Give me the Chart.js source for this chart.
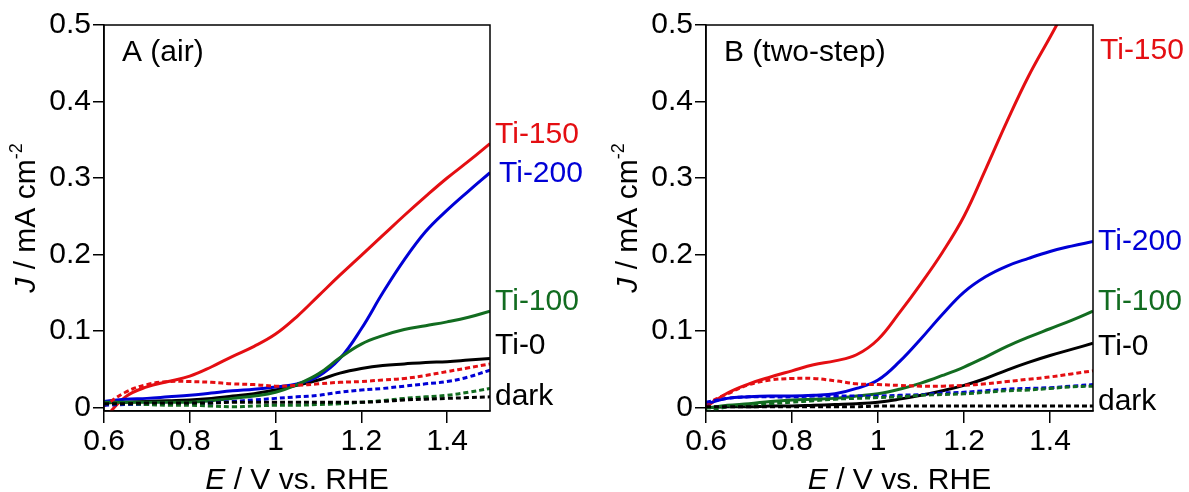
<!DOCTYPE html>
<html>
<head>
<meta charset="utf-8">
<script src="https://cdn.jsdelivr.net/npm/chart.js@4/dist/chart.umd.min.js"></script>
<style>
  body { margin: 0; background: #fff; }
  #wrap { position: relative; width: 1189px; height: 492px; }
  canvas { position: absolute; top: 0; }
</style>
</head>
<body>
<div id="wrap">
  <canvas id="chartA" width="600" height="492" style="left:0"></canvas>
  <canvas id="chartB" width="589" height="492" style="left:600px"></canvas>
</div>
<script>
/* potential grid (V vs RHE) */
const potential = [0.60, 0.65, 0.70, 0.75, 0.80, 0.85, 0.90, 0.95, 1.00, 1.05,
                   1.10, 1.15, 1.20, 1.25, 1.30, 1.35, 1.40, 1.45, 1.50];
const xTicks = [0.6, 0.8, 1.0, 1.2, 1.4];
const yTicks = [0, 0.1, 0.2, 0.3, 0.4, 0.5];

/* A (air) - light */
const airTi150 = [-0.015, 0.014, 0.027, 0.034, 0.041, 0.053, 0.067, 0.080, 0.096, 0.119, 0.146, 0.173, 0.199, 0.225, 0.251, 0.276, 0.300, 0.322, 0.345];
const airTi200 = [0.008, 0.011, 0.012, 0.014, 0.016, 0.019, 0.022, 0.024, 0.027, 0.031, 0.041, 0.064, 0.103, 0.150, 0.193, 0.230, 0.258, 0.283, 0.307];
const airTi100 = [0.007, 0.007, 0.007, 0.007, 0.007, 0.009, 0.012, 0.015, 0.020, 0.030, 0.044, 0.065, 0.083, 0.094, 0.102, 0.107, 0.112, 0.118, 0.126];
const airTi0   = [0.006, 0.007, 0.008, 0.009, 0.010, 0.012, 0.015, 0.018, 0.023, 0.029, 0.036, 0.045, 0.051, 0.055, 0.057, 0.059, 0.060, 0.062, 0.064];
/* A (air) - dark */
const airTi150Dark = [0.002, 0.020, 0.030, 0.034, 0.034, 0.033, 0.031, 0.030, 0.028, 0.029, 0.031, 0.033, 0.034, 0.036, 0.038, 0.042, 0.047, 0.052, 0.057];
const airTi200Dark = [0.003, 0.004, 0.004, 0.005, 0.005, 0.006, 0.008, 0.010, 0.012, 0.014, 0.016, 0.020, 0.023, 0.025, 0.028, 0.031, 0.034, 0.040, 0.049];
const airTi100Dark = [0.005, 0.005, 0.004, 0.003, 0.003, 0.002, 0.001, 0.002, 0.003, 0.003, 0.004, 0.005, 0.007, 0.009, 0.012, 0.014, 0.016, 0.020, 0.025];
const airTi0Dark   = [0.005, 0.005, 0.006, 0.006, 0.006, 0.006, 0.007, 0.007, 0.007, 0.007, 0.007, 0.007, 0.007, 0.008, 0.010, 0.011, 0.012, 0.013, 0.014];

/* B (two-step) - light */
const twoTi150 = [0.001, 0.019, 0.031, 0.040, 0.048, 0.056, 0.061, 0.069, 0.089, 0.124, 0.162, 0.203, 0.250, 0.311, 0.374, 0.433, 0.484, 0.535, 0.585];
const twoTi200 = [0.005, 0.012, 0.014, 0.015, 0.015, 0.016, 0.018, 0.025, 0.036, 0.060, 0.090, 0.122, 0.151, 0.171, 0.185, 0.195, 0.204, 0.211, 0.217];
const twoTi100 = [-0.001, 0.003, 0.005, 0.008, 0.010, 0.011, 0.012, 0.015, 0.018, 0.024, 0.032, 0.042, 0.053, 0.066, 0.080, 0.092, 0.103, 0.114, 0.126];
const twoTi0   = [0.000, 0.001, 0.001, 0.002, 0.002, 0.003, 0.004, 0.005, 0.007, 0.011, 0.016, 0.022, 0.029, 0.038, 0.049, 0.059, 0.068, 0.076, 0.084];
/* B (two-step) - dark */
const twoTi150Dark = [0.005, 0.018, 0.030, 0.036, 0.038, 0.038, 0.035, 0.031, 0.030, 0.029, 0.028, 0.028, 0.029, 0.031, 0.034, 0.037, 0.040, 0.044, 0.048];
const twoTi200Dark = [0.007, 0.012, 0.014, 0.014, 0.014, 0.015, 0.015, 0.015, 0.015, 0.016, 0.017, 0.019, 0.020, 0.022, 0.024, 0.025, 0.026, 0.028, 0.030];
const twoTi100Dark = [-0.006, 0.001, 0.003, 0.005, 0.007, 0.009, 0.011, 0.012, 0.013, 0.014, 0.016, 0.017, 0.018, 0.020, 0.022, 0.023, 0.025, 0.027, 0.028];
const twoTi0Dark   = [0.001, 0.001, 0.001, 0.001, 0.001, 0.001, 0.001, 0.001, 0.002, 0.002, 0.002, 0.002, 0.002, 0.002, 0.002, 0.002, 0.002, 0.002, 0.002];

const RED = "rgb(228, 14, 18)";
const BLUE = "rgb(0, 0, 214)";
const GREEN = "rgb(18, 108, 32)";
const BLACK = "#000";
const FONT = "'Liberation Sans', Arial, sans-serif";

const toPts = (arr) => arr.map((v, i) => ({ x: potential[i], y: v }));

const makeSet = (arr, color, dashed) => ({
    data: toPts(arr),
    borderColor: color,
    borderWidth: 3,
    borderDash: dashed ? [5, 3] : [],
    pointRadius: 0,
    tension: 0.4,
    fill: false
});

/* frame, titles, panel letter and end labels */
const decor = {
    id: "decor",
    afterDatasetsDraw(chart, args, opts) {
        const ctx = chart.ctx;
        const a = chart.chartArea;
        const y = chart.scales.y;
        ctx.save();
        ctx.strokeStyle = "#000";
        ctx.lineWidth = 1.5;
        ctx.strokeRect(a.left, a.top, a.right - a.left, a.bottom - a.top);

        ctx.fillStyle = "#000";
        ctx.textBaseline = "alphabetic";
        ctx.textAlign = "left";
        ctx.font = "30px " + FONT;
        ctx.fillText(opts.letter, a.left + 18, 61);

        // end labels
        ctx.textBaseline = "middle";
        opts.ends.forEach(l => {
            ctx.fillStyle = l.color;
            ctx.fillText(l.text, a.right + 5 + (l.dx || 0), y.getPixelForValue(l.at));
        });

        // x title
        ctx.fillStyle = "#000";
        ctx.textBaseline = "alphabetic";
        const it = "italic 30px " + FONT, rg = "30px " + FONT;
        ctx.font = it; const wE = ctx.measureText("E").width;
        ctx.font = rg; const wR = ctx.measureText(" / V vs. RHE").width;
        let x0 = (a.left + a.right) / 2 - (wE + wR) / 2;
        ctx.font = it; ctx.fillText("E", x0, 489);
        ctx.font = rg; ctx.fillText(" / V vs. RHE", x0 + wE, 489);

        // y title (rotated)
        ctx.translate(a.left - 80, (a.top + a.bottom) / 2);
        ctx.rotate(-Math.PI / 2);
        ctx.font = it; const wJ = ctx.measureText("J").width;
        ctx.font = rg; const wM = ctx.measureText(" / mA cm").width;
        ctx.font = "18px " + FONT; const wS = ctx.measureText("-2").width;
        x0 = -(wJ + wM + wS) / 2;
        ctx.font = it; ctx.fillText("J", x0, 11);
        ctx.font = rg; ctx.fillText(" / mA cm", x0 + wJ, 11);
        ctx.font = "18px " + FONT; ctx.fillText("-2", x0 + wJ + wM, -2);
        ctx.restore();
    }
};

const buildChart = (id, sets, letter, ends, axisW, rightPad) => {
    const ctx = document.getElementById(id).getContext("2d");
    return new Chart(ctx, {
        type: "line",
        data: { datasets: sets },
        options: {
            responsive: false,
            animation: false,
            devicePixelRatio: 1,
            layout: { padding: { top: 25, right: rightPad, left: 0, bottom: 0 } },
            plugins: { legend: { display: false }, tooltip: { enabled: false }, decor: { letter: letter, ends: ends } },
            scales: {
                x: {
                    type: "linear", min: 0.6, max: 1.5,
                    afterBuildTicks: (s) => { s.ticks = xTicks.map(v => ({ value: v })); },
                    afterFit: (s) => { s.height = 81; },
                    grid: { drawOnChartArea: false, drawTicks: true, tickLength: 12, color: "#000", lineWidth: 1.5 },
                    border: { display: true, color: "#000", width: 1.5 },
                    ticks: { color: "#000", padding: 1, maxRotation: 0, font: { family: FONT, size: 30 },
                             callback: (v) => String(+(+v).toFixed(1)) }
                },
                y: {
                    type: "linear", min: -0.0045, max: 0.5,
                    afterBuildTicks: (s) => { s.ticks = yTicks.map(v => ({ value: v })); },
                    afterFit: (s) => { s.width = axisW; },
                    grid: { drawOnChartArea: false, drawTicks: true, tickLength: 11, color: "#000", lineWidth: 1.5 },
                    border: { display: true, color: "#000", width: 1.5 },
                    ticks: { color: "#000", padding: 2, font: { family: FONT, size: 30 },
                             callback: (v) => v === 0 ? "0" : (+v).toFixed(1) }
                }
            }
        },
        plugins: [decor]
    });
};

buildChart("chartA", [
    makeSet(airTi0Dark, BLACK, true),
    makeSet(airTi100Dark, GREEN, true),
    makeSet(airTi200Dark, BLUE, true),
    makeSet(airTi150Dark, RED, true),
    makeSet(airTi100, GREEN, false),
    makeSet(airTi200, BLUE, false),
    makeSet(airTi150, RED, false),
    makeSet(airTi0, BLACK, false)
], "A (air)", [
    { text: "Ti-150", color: RED, at: 0.356 },
    { text: "Ti-200", color: BLUE, at: 0.305, dx: 4 },
    { text: "Ti-100", color: GREEN, at: 0.138 },
    { text: "Ti-0", color: BLACK, at: 0.081 },
    { text: "dark", color: BLACK, at: 0.014 }
], 104, 110);

buildChart("chartB", [
    makeSet(twoTi0Dark, BLACK, true),
    makeSet(twoTi100Dark, GREEN, true),
    makeSet(twoTi200Dark, BLUE, true),
    makeSet(twoTi150Dark, RED, true),
    makeSet(twoTi100, GREEN, false),
    makeSet(twoTi200, BLUE, false),
    makeSet(twoTi150, RED, false),
    makeSet(twoTi0, BLACK, false)
], "B (two-step)", [
    { text: "Ti-150", color: RED, at: 0.466, dx: 2 },
    { text: "Ti-200", color: BLUE, at: 0.2166 },
    { text: "Ti-100", color: GREEN, at: 0.138 },
    { text: "Ti-0", color: BLACK, at: 0.079 },
    { text: "dark", color: BLACK, at: 0.0075 }
], 106, 96);
</script>
</body>
</html>
